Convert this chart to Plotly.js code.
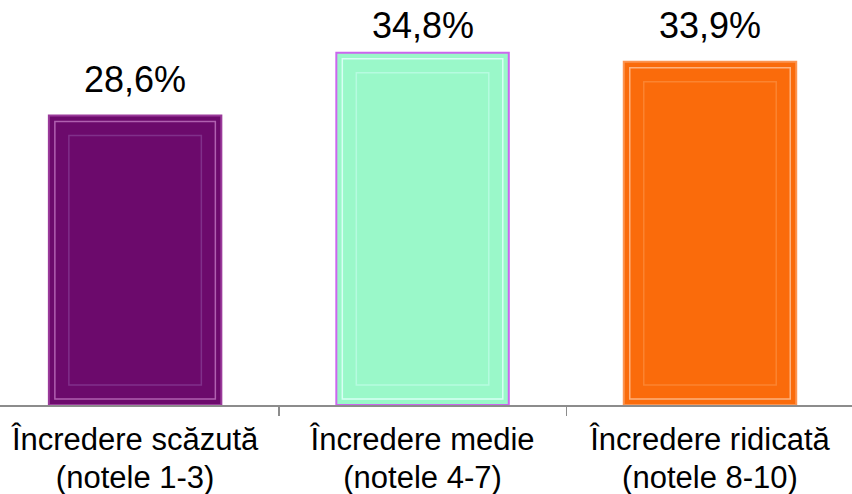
<!DOCTYPE html>
<html>
<head>
<meta charset="utf-8">
<script src="https://cdn.plot.ly/plotly-3.0.1.min.js"></script>
<style>html,body{margin:0;padding:0;background:#fff;}#chart{width:852px;height:494px;}</style>
</head>
<body>
<div id="chart"></div>
<script>
const categoryLine1 = ["Încredere scăzută", "Încredere medie", "Încredere ridicată"];
const categoryLine2 = ["(notele 1-3)", "(notele 4-7)", "(notele 8-10)"];
const values = [28.6, 34.8, 33.9];
const fillColors = ["#6c0a6c", "#9af8c9", "#fa6b0b"];
const outlineColors = ["#9a3a9a", "#cc66ee", "#fc9450"];
const frameLineColors = ["#b060b0", "#d8fff4", "#fdb27e"];
const bevelLineColors = ["#80308a", "#b6fbe0", "#fb8430"];

const FONT = 'Liberation Sans, Arial, sans-serif';
const labels = values.map(v => v.toFixed(1).replace('.', ',') + '%');

// geometry helpers (axis units)
const barW = 0.6, pxPerX = 287.5, pxPerY = 10.125;
function insetBar(px, lineColors, lw) {
  const dy = px / pxPerY;
  return {
    type: 'bar', x: categoryLine1, y: values.map(v => v - 2 * dy), base: values.map(() => dy),
    width: barW - 2 * px / pxPerX,
    marker: {color: fillColors, line: {color: lineColors, width: lw}},
    hoverinfo: 'skip', showlegend: false
  };
}
const outer = {
  type: 'bar', x: categoryLine1, y: values, width: barW,
  marker: {color: fillColors, line: {color: outlineColors, width: 2}},
  hoverinfo: 'skip', showlegend: false
};
// invisible carrier so the second label row (xaxis2) is drawn
const secondRow = {
  type: 'scatter', mode: 'markers', x: categoryLine2, y: values, xaxis: 'x2', yaxis: 'y',
  marker: {opacity: 0, size: 1}, hoverinfo: 'skip', showlegend: false
};
const traces = [outer, insetBar(6, frameLineColors, 1.5), insetBar(20, bevelLineColors, 1.5), secondRow];

// value labels (Excel-style: above bar, kept inside chart top)
const labelGap = 1.33, labelCeiling = 35.3;
const annotations = values.map((v, i) => ({
  x: categoryLine1[i], y: Math.min(v + labelGap, labelCeiling), xref: 'x', yref: 'y',
  text: labels[i], showarrow: false, yanchor: 'bottom',
  font: {family: FONT, size: 36, color: '#000'}
}));

Plotly.newPlot('chart', traces, {
  width: 852, height: 494,
  margin: {l: 0, r: 0, t: 0, b: 89},
  barmode: 'overlay',
  paper_bgcolor: '#fff', plot_bgcolor: '#fff',
  annotations: annotations,
  xaxis: {
    type: 'category', range: [-0.47, 2.494],
    showline: true, linecolor: '#8c8c8c', linewidth: 1.5,
    ticks: 'outside', tickson: 'boundaries', ticklen: 9, tickcolor: '#8c8c8c', tickwidth: 1.5,
    ticklabelstandoff: 6,
    tickfont: {family: FONT, size: 31, color: '#000'},
    showgrid: false, zeroline: false, fixedrange: true
  },
  xaxis2: {
    overlaying: 'x', anchor: 'y', side: 'bottom', type: 'category', range: [-0.47, 2.494],
    ticks: '', showline: false, showgrid: false, zeroline: false, ticklabelstandoff: 51,
    tickfont: {family: FONT, size: 31, color: '#000'}, fixedrange: true
  },
  yaxis: {range: [0, 40], visible: false, showgrid: false, zeroline: false, fixedrange: true},
  font: {family: FONT}
}, {staticPlot: true});
</script>
</body>
</html>
